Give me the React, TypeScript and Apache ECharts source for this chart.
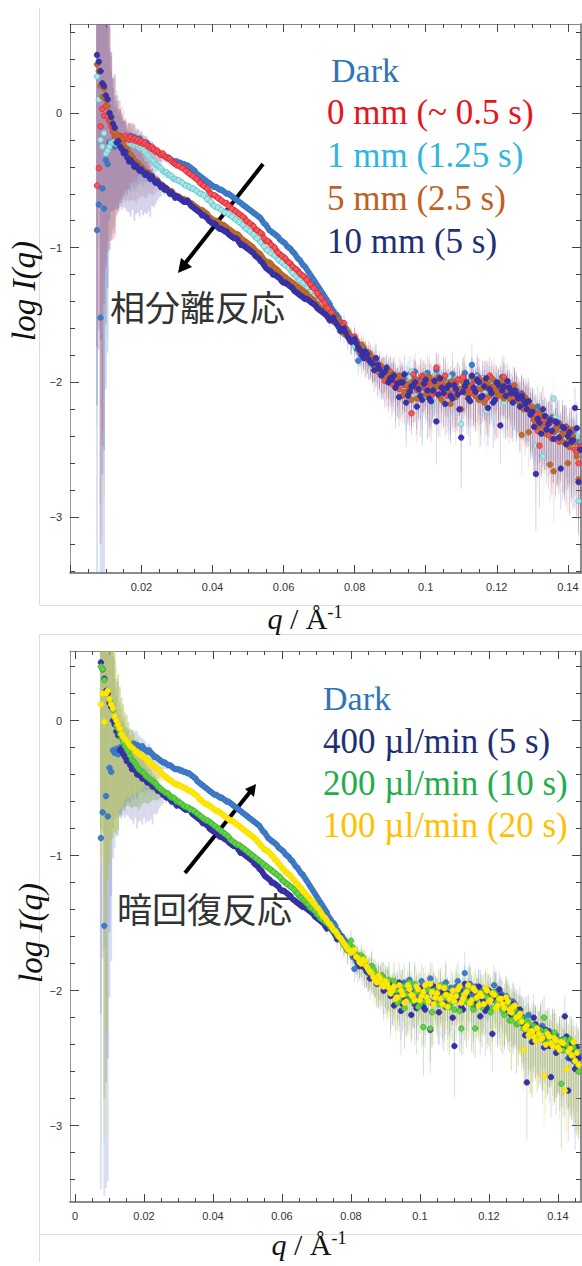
import React, { useEffect, useRef } from "react";
import * as echarts from "echarts";

const Q = [
  .0075,.008,.0085,.009,.0095,.01,.0105,.011,.0115,.012,
  .0125,.013,.0135,.014,.0145,.015,.0155,.016,.0165,.017,.0175,.018,.0185,.019,.0195,.02,
  .0205,.021,.0215,.022,.0225,.023,.0235,.024,.0245,.025,.0255,.026,.0265,.027,.0275,.028,.0285,.029,.0295,.03,
  .031,.032,.033,.034,.035,.036,.037,.038,.039,.04,.041,.042,.043,.044,.045,.046,.047,.048,.049,.05,
  .051,.052,.053,.054,.055,.056,.057,.058,.059,.06,.061,.062,.063,.064,.065,.066,.067,.068,.069,.07,
  .071,.072,.073,.074,.075,.076,.077,.078,.079,.08,.081,.082,.083,.084,.085,.086,.087,.088,.089,.09,
  .091,.092,.093,.094,.095,.096,.097,.098,.099,.1,.101,.102,.103,.104,.105,.106,.107,.108,.109,.11,
  .111,.112,.113,.114,.115,.116,.117,.118,.119,.12,.121,.122,.123,.124,.125,.126,.127,.128,.129,.13,
  .131,.132,.133,.134,.135,.136,.137,.138,.139,.14,.141,.142,.143,
  .0805,.0815,.0825,.0835,.0845,.0855,.0865,.0875,.0885,.0895,
  .0905,.0915,.0925,.0935,.0945,.0955,.0965,.0975,.0985,.0995,.1005,.1015,.1025,.1035,.1045,.1055,.1065,.1075,.1085,.1095,
  .1105,.1115,.1125,.1135,.1145,.1155,.1165,.1175,.1185,.1195,.1205,.1215,.1225,.1235,.1245,.1255,.1265,.1275,.1285,.1295,
  .1305,.1315,.1325,.1335,.1345,.1355,.1365,.1375,.1385,.1395,.1405,.1415,.1425,
  .1435,.144,.1445,.145,.1455,.146,
];
const Q_MID = [
  .0305,.0315,.0325,.0335,.0345,.0355,.0365,.0375,.0385,.0395,
  .0405,.0415,.0425,.0435,.0445,.0455,.0465,.0475,.0485,.0495,
  .0505,.0515,.0525,.0535,.0545,.0555,.0565,.0575,.0585,.0595,
  .0605,.0615,.0625,.0635,.0645,.0655,.0665,.0675,.0685,.0695,
  .0705,.0715,.0725,.0735,.0745,.0755,.0765,.0775,.0785,.0795,
];

const DARK = [
  -.87,-.68,-1.52,-.56,-.71,-.35,-.38,-.22,-.24,-.21,
  -.25,-.2,-.23,-.19,-.22,-.2,-.18,-.21,-.19,-.17,-.2,-.18,-.19,-.2,-.19,-.21,
  -.22,-.23,-.22,-.24,-.25,-.27,-.27,-.28,-.29,-.3,-.31,-.31,-.32,-.33,-.33,-.34,-.35,-.36,-.36,-.36,
  -.37,-.38,-.39,-.41,-.43,-.46,-.48,-.5,-.52,-.54,-.55,-.57,-.58,-.6,-.61,-.63,-.65,-.67,-.69,-.71,
  -.73,-.75,-.77,-.8,-.83,-.87,-.89,-.91,-.94,-.96,-.99,-1.01,-1.04,-1.08,-1.11,-1.14,-1.18,-1.22,-1.26,-1.3,
  -1.34,-1.38,-1.42,-1.47,-1.5,-1.55,-1.59,-1.62,-1.66,-1.72,-1.84,-1.74,-1.79,-1.83,-1.87,-1.85,-1.9,-1.92,-1.95,-1.93,
  -1.97,-2,-1.99,-2.03,-1.98,-2.05,-1.92,-2.07,-2.02,-2,-1.96,-2.04,-1.91,-2.01,-2.06,-1.99,-2.03,-2.08,-1.98,-2.02,
  -1.93,-2.05,-1.87,-2,-2.04,-1.97,-2.02,-2.06,-1.99,-2.03,-2.07,-2.01,-2.05,-2.1,-2.04,-2.12,-2.08,-2.14,-2.18,-2.2,
  -2.24,-2.3,-2.27,-2.33,-2.29,-2.36,-2.32,-2.38,-2.35,-2.42,-2.39,-2.44,-2.5,
  -1.75,-1.78,-1.8,-1.82,-1.86,-1.84,-1.89,-1.93,-1.91,-1.96,
  -1.95,-1.99,-2.01,-1.97,-2.03,-1.94,-2.06,-2,-1.98,-2.04,-1.93,-2.02,-2.07,-1.96,-2.03,-1.99,-2.09,-1.94,-2.05,-2.01,
  -1.97,-2.04,-1.99,-2.08,-1.95,-2.03,-2.06,-1.98,-2.01,-2.09,-2.03,-1.96,-2.07,-2.02,-2.11,-2.06,-2.13,-2.1,-2.16,-2.19,
  -2.22,-2.18,-2.28,-2.25,-2.31,-2.26,-2.34,-2.3,-2.37,-2.33,-2.4,-2.36,-2.43,
  -2.47,-2.41,-2.52,-2.45,-2.55,-2.48,
];
const RED_0MM = [
  -.54,-.41,-.1,.03,-.02,.05,-.03,-.06,-.1,-.14,
  -.17,-.16,-.19,-.17,-.18,-.2,-.17,-.19,-.2,-.18,-.2,-.19,-.21,-.2,-.22,-.21,
  -.23,-.22,-.24,-.25,-.26,-.25,-.27,-.29,-.28,-.3,-.31,-.3,-.32,-.33,-.34,-.34,-.36,-.37,-.38,-.39,
  -.4,-.41,-.44,-.46,-.48,-.5,-.53,-.55,-.58,-.61,-.62,-.64,-.66,-.67,-.7,-.72,-.74,-.76,-.78,-.81,
  -.83,-.86,-.88,-.9,-.95,-.96,-.99,-1.02,-1.05,-1.07,-1.1,-1.12,-1.15,-1.17,-1.2,-1.22,-1.25,-1.29,-1.31,-1.36,
  -1.39,-1.43,-1.46,-1.5,-1.53,-1.58,-1.56,-1.63,-1.68,-1.66,-1.72,-1.76,-1.8,-1.78,-1.84,-1.9,-1.87,-1.93,-1.96,-1.92,
  -1.98,-2,-1.96,-2.02,-2.06,-2.23,-1.97,-2.03,-1.95,-2.05,-1.99,-2.08,-1.89,-2.01,-1.97,-2.1,-2,-2.04,-1.98,-2.07,
  -1.99,-2.06,-2.02,-2.1,-1.97,-2.04,-2.12,-1.95,-2.03,-2.08,-2,-1.96,-2.06,-2.1,-2.05,-2.13,-2.09,-2.18,-2.14,-2.2,
  -2.24,-2.47,-2.27,-2.35,-2.3,-2.37,-2.32,-2.4,-2.36,-2.44,-2.41,-2.5,-2.6,
  -1.69,-1.74,-1.77,-1.82,-1.81,-1.88,-1.91,-1.94,-1.99,-1.95,
  -2.01,-1.97,-2.05,-1.99,-2.08,-2.02,-1.94,-2.06,-2,-1.96,-2.04,-2.1,-1.98,-2.03,-2.07,-1.95,-2.02,-2.09,-2.01,-2.05,
  -1.96,-2.03,-2.08,-1.98,-2.05,-2.11,-1.99,-2.04,-1.97,-2.06,-2.02,-2.09,-2.01,-2.07,-2.12,-2.08,-2.15,-2.11,-2.17,-2.22,
  -2.28,-2.36,-2.25,-2.31,-2.39,-2.28,-2.34,-2.44,-2.38,-2.33,-2.46,-2.42,-2.52,
  -2.48,-2.56,-2.44,-2.5,-2.6,-2.47,
];
const CYAN_1MM = [
  .27,.1,-.2,-.25,-.15,-.3,-.28,-.25,-.22,-.22,
  -.21,-.23,-.2,-.22,-.24,-.21,-.23,-.22,-.2,-.23,-.22,-.24,-.23,-.25,-.26,-.25,
  -.27,-.29,-.31,-.32,-.34,-.35,-.36,-.38,-.39,-.4,-.41,-.43,-.44,-.44,-.46,-.46,-.47,-.49,-.49,-.5,
  -.51,-.53,-.54,-.56,-.57,-.59,-.6,-.62,-.65,-.68,-.7,-.71,-.73,-.74,-.76,-.78,-.8,-.82,-.85,-.87,
  -.89,-.92,-.94,-.97,-1.01,-1.03,-1.05,-1.07,-1.1,-1.12,-1.14,-1.17,-1.2,-1.23,-1.25,-1.28,-1.31,-1.35,-1.38,-1.41,
  -1.44,-1.47,-1.5,-1.53,-1.56,-1.59,-1.63,-1.61,-1.67,-1.73,-1.71,-1.78,-1.76,-1.83,-1.87,-1.85,-1.91,-1.89,-1.95,-2.01,
  -1.96,-2.03,-1.99,-2.05,-2,-1.92,-2.06,-2.02,-2.1,-1.98,-2.04,-2.14,-2,-2.07,-1.95,-2.03,-2.11,-1.99,-2.05,-2.31,
  -2,-2.08,-1.98,-2.03,-2.12,-1.97,-2.21,-2.05,-2.01,-2.09,-2.03,-2.15,-2.07,-2.11,-2.04,-2.16,-2.1,-2.19,-2.17,-2.24,
  -2.47,-2.29,-2.55,-2.31,-2.36,-2.12,-2.33,-2.4,-2.38,-2.45,-2.43,-2.42,-2.88,
  -1.7,-1.75,-1.74,-1.8,-1.85,-1.82,-1.88,-1.93,-1.9,-1.98,
  -1.99,-1.94,-2.04,-2,-2.07,-1.96,-2.02,-2.09,-2.03,-1.95,-2.06,-2.01,-1.97,-2.05,-2.1,-2,-1.96,-2.04,-2.08,-2.02,
  -1.98,-2.05,-2.01,-2.09,-1.96,-2.03,-2.07,-2,-2.05,-1.99,-2.08,-2.04,-2.1,-2.06,-2.13,-2.09,-2.15,-2.12,-2.18,-2.21,
  -2.26,-2.34,-2.28,-2.38,-2.3,-2.35,-2.26,-2.39,-2.34,-2.42,-2.37,-2.46,-2.4,
  -2.5,-2.44,-2.56,-2.47,-2.52,-2.6,
];
const BROWN_5MM = [
  .36,.31,.2,.12,.18,.1,.05,0,-.06,-.1,
  -.14,-.18,-.17,-.19,-.2,-.23,-.26,-.27,-.3,-.31,-.33,-.35,-.37,-.37,-.39,-.4,
  -.42,-.43,-.45,-.44,-.46,-.48,-.49,-.5,-.5,-.52,-.53,-.54,-.55,-.56,-.57,-.58,-.58,-.6,-.61,-.62,
  -.63,-.64,-.66,-.67,-.69,-.71,-.72,-.74,-.77,-.79,-.8,-.82,-.83,-.85,-.87,-.89,-.9,-.93,-.95,-.97,
  -.99,-1.02,-1.04,-1.07,-1.1,-1.11,-1.14,-1.16,-1.19,-1.21,-1.23,-1.25,-1.27,-1.29,-1.31,-1.33,-1.36,-1.38,-1.41,-1.44,
  -1.46,-1.49,-1.51,-1.55,-1.53,-1.6,-1.64,-1.62,-1.69,-1.67,-1.75,-1.72,-1.81,-1.78,-1.85,-1.83,-1.89,-1.94,-1.91,-1.97,
  -1.94,-2.02,-1.99,-2.07,-2.01,-2.13,-1.98,-2.04,-2,-2.09,-1.96,-2.06,-2.02,-2.11,-1.99,-2.05,-2.16,-2.01,-2.08,-2.2,
  -2.02,-2.09,-1.96,-2.06,-2.13,-2,-2.04,-2.1,-1.98,-2.07,-2.03,-2.12,-2.05,-2.09,-2.02,-2.14,-2.39,-2.11,-2.37,-2.18,
  -2.3,-2.22,-2.33,-2.26,-2.61,-2.66,-2.34,-2.41,-2.38,-2.6,-2.35,-2.45,-2.72,
  -1.7,-1.77,-1.74,-1.83,-1.8,-1.87,-1.92,-1.88,-1.96,-1.93,
  -1.98,-2.04,-1.95,-2.1,-2.02,-2.06,-1.99,-2.12,-2.03,-1.97,-2.08,-2.01,-2.05,-1.96,-2.13,-2.03,-2.07,-1.99,-2.11,-2.05,
  -2,-2.08,-2.03,-1.97,-2.11,-2.05,-2.15,-2.01,-2.07,-2.03,-2.1,-1.99,-2.06,-2.12,-2.04,-2.1,-2.15,-2.2,-2.13,-2.23,
  -2.27,-2.33,-2.24,-2.38,-2.3,-2.42,-2.36,-2.31,-2.44,-2.35,-2.48,-2.4,-2.55,
  -2.5,-2.45,-2.62,-2.48,-2.55,-2.44,
];
const NAVY_10MM = [
  .43,.38,.31,.22,.2,.13,.1,0,-.03,-.08,
  -.11,-.22,-.21,-.25,-.27,-.3,-.29,-.33,-.36,-.35,-.37,-.4,-.39,-.41,-.43,-.42,
  -.44,-.46,-.45,-.47,-.49,-.47,-.5,-.52,-.51,-.53,-.55,-.54,-.57,-.56,-.58,-.6,-.59,-.61,-.63,-.62,
  -.64,-.66,-.65,-.69,-.71,-.73,-.76,-.77,-.8,-.82,-.83,-.86,-.87,-.88,-.91,-.93,-.94,-.98,-.99,-1.01,
  -1.03,-1.06,-1.08,-1.11,-1.15,-1.17,-1.2,-1.21,-1.23,-1.26,-1.27,-1.29,-1.32,-1.34,-1.36,-1.38,-1.39,-1.41,-1.43,-1.46,
  -1.48,-1.5,-1.54,-1.52,-1.57,-1.62,-1.6,-1.66,-1.7,-1.68,-1.74,-1.8,-1.77,-1.83,-1.86,-1.82,-1.9,-1.93,-1.89,-1.97,
  -1.95,-2.01,-2,-1.94,-2.1,-2.03,-2,-2.05,-2.13,-1.98,-2.12,-2.06,-2.29,-1.97,-2.08,-2.04,-2.1,-2.02,-2.09,-2.41,
  -2.03,-2.12,-1.95,-2.07,-2,-2.1,-1.97,-2.05,-2.15,-2,-2.32,-2.03,-1.99,-2.08,-2.06,-2.12,-2.1,-2.16,-2.14,-2.22,
  -2.68,-2.3,-2.2,-2.35,-2.28,-2.42,-2.3,-2.64,-2.34,-2.4,-2.44,-2.19,-2.74,
  -1.71,-1.76,-1.82,-1.79,-1.85,-1.91,-1.87,-1.95,-1.92,-2,
  -1.98,-2.04,-2.11,-2,-2.15,-2.07,-2.03,-2.18,-2.1,-2.01,-2.06,-2.14,-1.99,-2.09,-2.04,-2.16,-2.02,-2.12,-2.05,-2.2,
  -2.07,-2,-2.14,-2.04,-1.98,-2.11,-2.03,-2.19,-2.08,-2.13,-2.02,-2.06,-2.1,-2.04,-2.15,-2.09,-2.18,-2.13,-2.2,-2.24,
  -2.33,-2.27,-2.38,-2.25,-2.31,-2.36,-2.29,-2.41,-2.33,-2.46,-2.37,-2.43,-2.34,
  -2.5,-2.39,-2.46,-2.58,-2.42,-2.5,
];
const GREEN_200 = [
  .4,.38,.3,.2,.22,.15,.12,.08,.02,-.04,
  -.06,-.1,-.13,-.16,-.19,-.21,-.23,-.26,-.29,-.3,-.32,-.34,-.36,-.37,-.38,-.39,
  -.41,-.42,-.43,-.44,-.45,-.46,-.47,-.49,-.5,-.51,-.52,-.53,-.54,-.54,-.56,-.57,-.57,-.58,-.6,-.6,
  -.62,-.64,-.65,-.66,-.68,-.7,-.72,-.74,-.75,-.77,-.79,-.81,-.83,-.85,-.88,-.9,-.92,-.93,-.95,-.97,
  -.99,-1.01,-1.03,-1.05,-1.07,-1.09,-1.11,-1.13,-1.15,-1.18,-1.2,-1.22,-1.24,-1.27,-1.3,-1.32,-1.35,-1.38,-1.4,-1.43,
  -1.46,-1.48,-1.5,-1.53,-1.56,-1.59,-1.62,-1.66,-1.7,-1.63,-1.72,-1.76,-1.74,-1.8,-1.84,-1.82,-1.87,-1.92,-1.89,-1.95,
  -1.92,-1.99,-2,-2.06,-1.97,-2.03,-1.94,-2.08,-2.01,-2.1,-2.27,-2.05,-2.28,-2,-2.07,-1.96,-2.11,-2.03,-2.09,-2.14,
  -2,-2.28,-2.06,-1.98,-2.1,-2.28,-2.04,-2.12,-2,-2.07,-2.13,-2.03,-2.09,-2.15,-2.05,-2.22,-2.17,-2.25,-2.2,-2.28,
  -2.22,-2.3,-2.26,-2.35,-2.29,-2.2,-2.33,-2.38,-2.31,-2.4,-2.69,-2.36,-2.45,
  -1.68,-1.73,-1.78,-1.76,-1.82,-1.86,-1.84,-1.9,-1.94,-1.91,
  -1.96,-2.02,-1.93,-2.09,-2,-2.13,-1.98,-2.05,-1.95,-2.12,-2.03,-2.08,-1.99,-2.16,-2.02,-2.1,-2.05,-1.97,-2.12,-2.06,
  -2.01,-2.15,-2.03,-2.08,-1.99,-2.14,-2.06,-2.02,-2.1,-2.05,-2.16,-2.01,-2.08,-2.12,-2.18,-2.1,-2.22,-2.14,-2.24,-2.2,
  -2.28,-2.24,-2.33,-2.27,-2.31,-2.36,-2.3,-2.38,-2.34,-2.41,-2.37,-2.44,-2.4,
  -2.36,-2.47,-2.42,-2.52,-2.45,-2.6,
];
const YELLOW_100 = [
  .12,.2,-.01,.2,.22,.16,.12,.09,.03,0,
  -.03,-.06,-.1,-.12,-.14,-.15,-.17,-.19,-.2,-.21,-.23,-.23,-.25,-.26,-.26,-.27,
  -.28,-.3,-.31,-.31,-.33,-.34,-.35,-.36,-.37,-.39,-.4,-.41,-.42,-.43,-.44,-.45,-.46,-.47,-.47,-.48,
  -.49,-.5,-.52,-.53,-.55,-.58,-.6,-.62,-.63,-.65,-.67,-.68,-.7,-.72,-.74,-.75,-.77,-.79,-.81,-.83,
  -.85,-.87,-.9,-.93,-.96,-.97,-1,-1.03,-1.06,-1.09,-1.12,-1.14,-1.17,-1.2,-1.23,-1.26,-1.29,-1.32,-1.35,-1.38,
  -1.41,-1.45,-1.48,-1.51,-1.55,-1.58,-1.61,-1.65,-1.69,-1.72,-1.7,-1.76,-1.8,-1.78,-1.84,-1.87,-1.92,-1.89,-1.95,-1.93,
  -1.98,-2,-2.06,-1.96,-2.03,-2.08,-1.99,-2.04,-1.97,-2.07,-2.01,-2.05,-1.95,-2.1,-2.02,-2.06,-1.98,-2.12,-2.04,-2.08,
  -1.99,-2.09,-2.03,-1.96,-2.07,-2,-2.11,-2.04,-1.98,-2.08,-2.02,-2.13,-2.06,-2.1,-2.05,-2.14,-2.12,-2.2,-2.17,-2.44,
  -2.26,-2.3,-2.34,-2.28,-2.36,-2.63,-2.32,-2.39,-2.35,-2.42,-2.38,-2.74,-2.45,
  -1.71,-1.75,-1.79,-1.77,-1.82,-1.86,-1.9,-1.94,-1.91,-1.97,
  -1.95,-2.02,-1.97,-2.05,-2,-2.09,-1.96,-2.03,-2.07,-1.99,-2.04,-1.96,-2.08,-2.01,-2.05,-1.97,-2.1,-2.03,-2.06,-2,
  -2.04,-1.97,-2.06,-2.01,-2.09,-1.98,-2.05,-2.02,-2.1,-2,-2.07,-2.03,-2.11,-2.06,-2.13,-2.08,-2.16,-2.11,-2.19,-2.23,
  -2.28,-2.33,-2.3,-2.37,-2.32,-2.35,-2.4,-2.34,-2.41,-2.37,-2.44,-2.39,-2.58,
  -2.43,-2.48,-2.38,-2.52,-2.46,-2.55,
];

const DARK_MID = [
  -.37,-.38,-.39,-.4,-.42,-.45,-.47,-.49,-.51,-.53,
  -.55,-.56,-.57,-.59,-.6,-.62,-.64,-.66,-.68,-.7,
  -.72,-.74,-.76,-.78,-.82,-.85,-.88,-.9,-.92,-.95,
  -.97,-1,-1.03,-1.06,-1.09,-1.13,-1.16,-1.2,-1.24,-1.28,
  -1.32,-1.36,-1.4,-1.45,-1.49,-1.52,-1.57,-1.6,-1.64,-1.69,
];
const RED_MID = [
  -.39,-.41,-.43,-.45,-.47,-.49,-.52,-.54,-.56,-.6,
  -.61,-.63,-.65,-.67,-.69,-.71,-.73,-.75,-.77,-.8,
  -.82,-.84,-.87,-.89,-.93,-.95,-.98,-1,-1.04,-1.06,
  -1.08,-1.11,-1.14,-1.16,-1.19,-1.21,-1.24,-1.27,-1.3,-1.34,
  -1.37,-1.41,-1.45,-1.48,-1.52,-1.55,-1.58,-1.6,-1.65,-1.67,
];
const CYAN_MID = [
  -.5,-.52,-.54,-.55,-.56,-.58,-.6,-.61,-.64,-.66,
  -.69,-.7,-.72,-.74,-.75,-.77,-.79,-.81,-.83,-.86,
  -.88,-.9,-.93,-.96,-.99,-1.02,-1.04,-1.06,-1.09,-1.11,
  -1.13,-1.15,-1.19,-1.21,-1.24,-1.26,-1.3,-1.33,-1.36,-1.4,
  -1.42,-1.46,-1.49,-1.52,-1.55,-1.57,-1.6,-1.64,-1.65,-1.7,
];
const BROWN_MID = [
  -.62,-.64,-.65,-.67,-.68,-.7,-.72,-.73,-.75,-.78,
  -.8,-.81,-.83,-.84,-.86,-.88,-.9,-.91,-.94,-.96,
  -.98,-1,-1.03,-1.05,-1.09,-1.11,-1.12,-1.15,-1.17,-1.2,
  -1.22,-1.24,-1.26,-1.28,-1.3,-1.32,-1.34,-1.37,-1.39,-1.42,
  -1.45,-1.47,-1.5,-1.53,-1.54,-1.57,-1.62,-1.63,-1.66,-1.68,
];
const NAVY_MID = [
  -.63,-.65,-.66,-.67,-.7,-.72,-.74,-.76,-.78,-.81,
  -.82,-.85,-.86,-.88,-.9,-.92,-.93,-.96,-.98,-1,
  -1.02,-1.04,-1.07,-1.1,-1.13,-1.16,-1.18,-1.2,-1.22,-1.25,
  -1.26,-1.28,-1.3,-1.33,-1.35,-1.37,-1.38,-1.4,-1.42,-1.45,
  -1.47,-1.49,-1.52,-1.53,-1.55,-1.59,-1.61,-1.63,-1.68,-1.69,
];
const GREEN_MID = [
  -.61,-.63,-.64,-.66,-.67,-.69,-.71,-.73,-.74,-.76,
  -.78,-.8,-.82,-.84,-.86,-.89,-.91,-.92,-.94,-.96,
  -.98,-1,-1.02,-1.04,-1.06,-1.08,-1.1,-1.12,-1.14,-1.16,
  -1.19,-1.21,-1.23,-1.25,-1.28,-1.31,-1.33,-1.36,-1.39,-1.41,
  -1.44,-1.47,-1.49,-1.51,-1.54,-1.57,-1.6,-1.64,-1.68,-1.66,
];
const YELLOW_MID = [
  -.48,-.5,-.51,-.52,-.54,-.56,-.59,-.61,-.62,-.64,
  -.66,-.67,-.69,-.71,-.73,-.74,-.76,-.78,-.8,-.82,
  -.84,-.86,-.88,-.91,-.94,-.96,-.98,-1.01,-1.04,-1.07,
  -1.1,-1.13,-1.15,-1.18,-1.21,-1.24,-1.27,-1.3,-1.33,-1.36,
  -1.39,-1.43,-1.46,-1.5,-1.53,-1.56,-1.6,-1.63,-1.67,-1.7,
];

const UP_EXTRA = [
  .06,.07,.08,.07,.09,.1,.08,.11,.1,.12,
  .13,.11,.14,.12,.15,.13,.12,.14,.16,.12,.13,.15,.12,.17,.13,.14,.12,.16,.13,.14,
  .15,.12,.14,.13,.16,.12,.15,.14,.13,.17,.12,.15,.14,.13,.16,.14,.15,.13,.16,.15,
  .17,.15,.18,.14,.16,.19,.15,.17,.2,.16,.18,.15,.19,
  .17,.2,.16,.19,.18,.2,
];
const DOWN_EXTRA_A = [
  .09,.12,.1,.14,.12,.16,.14,.18,.16,.22,
  .2,.3,.16,.24,.33,.2,.27,.17,.3,.22,.36,.19,.26,.31,.18,.24,.34,.2,.28,.23,
  .3,.2,.33,.25,.18,.36,.22,.28,.2,.3,.26,.18,.32,.23,.29,.35,.24,.3,.27,.34,
  .36,.44,.3,.4,.33,.48,.35,.42,.3,.46,.38,.5,.4,
  .45,.55,.4,.6,.48,.55,
];
const DOWN_EXTRA_B = [
  .1,.08,.13,.11,.15,.12,.19,.14,.2,.17,
  .25,.17,.28,.2,.14,.3,.22,.33,.18,.25,.2,.34,.16,.27,.23,.3,.19,.26,.36,.2,
  .22,.3,.19,.34,.25,.2,.29,.36,.23,.18,.31,.27,.2,.33,.24,.28,.37,.26,.32,.29,
  .42,.34,.46,.3,.4,.36,.5,.33,.44,.38,.52,.35,.47,
  .5,.42,.58,.46,.62,.5,
];
const UP_A = [
  1.9,1.8,2.6,1.6,1.5,1.2,1.1,.7,.55,.4,
  .3,.25,.22,.2,.18,.14,.12,.1,.12,.1,.12,.1,.08,.08,.06,.07,
  .06,.05,.05,.04,.04,.04,.03,.03,.03,.03,.02,.02,.02,.02,.02,.02,.02,.02,.02,.02,
  .02,.02,.02,.02,.02,.02,.02,.02,.02,.02,.02,.02,.02,.02,.02,.02,.02,.02,.02,.02,
  .02,.02,.02,.02,.02,.02,.02,.02,.02,.02,.03,.03,.03,.03,.03,.03,.03,.03,.03,.03,
  .03,.03,.04,.04,.05,.05,.06,.05,.07,.07,.08,.07,.09,.08,.1,.09,.1,.11,.1,.12,
  .12,.11,.13,.12,.14,.12,.13,.15,.12,.14,.13,.15,.12,.14,.16,.13,.12,.15,.13,.12,
  .14,.13,.16,.12,.15,.13,.17,.14,.12,.15,.13,.16,.14,.12,.15,.16,.13,.15,.14,.16,
  .15,.17,.14,.18,.16,.15,.19,.16,.18,.15,.2,.17,.18,
  ...UP_EXTRA,
];
const UP_B = [
  1.2,1.2,1,.9,1,.9,.8,.75,.48,.35,
  .4,.35,.3,.28,.25,.25,.22,.2,.22,.2,.18,.2,.17,.15,.14,.12,
  .11,.1,.09,.08,.07,.06,.05,.05,.04,.04,.03,.03,.03,.02,.02,.02,.02,.02,.02,.02,
  .02,.02,.02,.02,.02,.02,.02,.02,.02,.02,.02,.02,.02,.02,.02,.02,.02,.02,.02,.02,
  .02,.02,.02,.02,.02,.02,.02,.02,.02,.02,.03,.03,.03,.03,.03,.03,.03,.03,.03,.03,
  .03,.04,.03,.05,.04,.06,.05,.07,.06,.08,.07,.09,.08,.1,.09,.11,.1,.12,.1,.11,
  .13,.12,.11,.14,.12,.13,.15,.12,.14,.11,.15,.13,.14,.12,.16,.13,.15,.12,.14,.13,
  .12,.15,.14,.16,.12,.14,.13,.17,.15,.12,.14,.16,.13,.15,.14,.12,.16,.14,.17,.15,
  .18,.15,.17,.14,.19,.16,.15,.2,.17,.16,.18,.15,.2,
  ...UP_EXTRA,
];
const DOWN_A = [
  2.6,1.08,2,2.9,2.7,1.7,1.4,.8,.7,.65,
  .6,.5,.5,.45,.45,.4,.42,.4,.38,.42,.35,.4,.36,.33,.34,.3,
  .32,.28,.3,.26,.28,.22,.2,.16,.14,.1,.07,.05,.04,.03,.03,.03,.02,.02,.02,.02,
  .02,.02,.02,.02,.02,.02,.02,.02,.02,.02,.02,.02,.02,.02,.02,.02,.02,.02,.02,.02,
  .02,.02,.02,.02,.02,.02,.02,.02,.02,.02,.03,.03,.03,.03,.03,.03,.03,.03,.03,.03,
  .04,.03,.05,.04,.06,.08,.07,.1,.09,.12,.1,.14,.12,.15,.13,.18,.15,.2,.16,.2,
  .18,.25,.15,.28,.2,.3,.18,.22,.34,.2,.28,.24,.32,.18,.26,.22,.35,.2,.27,.38,
  .2,.28,.18,.3,.24,.2,.32,.26,.34,.2,.28,.24,.36,.22,.3,.26,.33,.28,.3,.34,
  .42,.3,.36,.28,.4,.32,.45,.3,.48,.35,.42,.5,.38,
  ...DOWN_EXTRA_A,
];
const DOWN_B = [
  1.2,1.2,3.1,2.5,1.4,1.2,1,.95,.85,.8,
  .75,.6,.55,.5,.45,.42,.4,.38,.36,.34,.32,.3,.3,.27,.24,.22,
  .2,.2,.18,.16,.14,.13,.12,.1,.08,.06,.05,.04,.03,.03,.02,.02,.02,.02,.02,.02,
  .02,.02,.02,.02,.02,.02,.02,.02,.02,.02,.02,.02,.02,.02,.02,.02,.02,.02,.02,.02,
  .02,.02,.02,.02,.02,.02,.02,.02,.02,.02,.03,.03,.03,.03,.03,.03,.03,.03,.03,.03,
  .03,.05,.04,.06,.05,.07,.09,.08,.11,.1,.13,.11,.16,.12,.17,.14,.19,.15,.22,.17,
  .24,.17,.3,.2,.26,.16,.32,.19,.27,.22,.36,.18,.25,.3,.2,.28,.23,.33,.21,.28,
  .26,.2,.31,.24,.35,.22,.27,.3,.2,.34,.25,.29,.22,.32,.27,.24,.3,.36,.26,.31,
  .3,.46,.34,.4,.28,.38,.44,.33,.5,.36,.48,.34,.42,
  ...DOWN_EXTRA_B,
];

const LEGEND_TOP = ["Dark", "0 mm (~ 0.5 s)", "1 mm (1.25 s)", "5 mm (2.5 s)", "10 mm (5 s)"];
const LEGEND_BOTTOM = ["Dark", "400 µl/min (5 s)", "200 µl/min (10 s)", "100 µl/min (20 s)"];
const X_LABELS_TOP = [0.02, 0.04, 0.06, 0.08, 0.1, 0.12, 0.14];
const X_LABELS_BOTTOM = [0, 0.02, 0.04, 0.06, 0.08, 0.1, 0.12, 0.14];
const X_MAJOR = [0, 0.02, 0.04, 0.06, 0.08, 0.1, 0.12, 0.14];
const X_MINOR = [0.005,0.01,0.015,0.025,0.03,0.035,0.045,0.05,0.055,0.065,0.07,0.075,0.085,0.09,0.095,0.105,0.11,0.115,0.125,0.13,0.135,0.145];
const Y_MAJOR = [0, -1, -2, -3];
const Y_MINOR = [0.6,0.4,0.2,-0.2,-0.4,-0.6,-0.8,-1.2,-1.4,-1.6,-1.8,-2.2,-2.4,-2.6,-2.8,-3.2,-3.4];

const SERIES_TOP = [
  { name: "Dark", y: DARK, mid: DARK_MID, up: UP_A, down: DOWN_A, fill: "#3d7cc9", border: "#3470bd", bar: "rgba(90,130,205,0.25)" },
  { name: "1 mm", y: CYAN_1MM, mid: CYAN_MID, up: UP_A, down: DOWN_A, fill: "#a9e6e6", border: "#58c5cb", bar: "rgba(110,205,215,0.14)" },
  { name: "0 mm", y: RED_0MM, mid: RED_MID, up: UP_A, down: DOWN_B, fill: "#f2565e", border: "#e3202c", bar: "rgba(225,90,105,0.3)" },
  { name: "5 mm", y: BROWN_5MM, mid: BROWN_MID, up: UP_B, down: DOWN_B, fill: "#bd6a2e", border: "#b45f26", bar: "rgba(190,115,100,0.2)" },
  { name: "10 mm", y: NAVY_10MM, mid: NAVY_MID, up: UP_B, down: DOWN_A, fill: "#3832aa", border: "#322ca0", bar: "rgba(80,70,170,0.24)" },
];
const SERIES_BOTTOM = [
  { name: "Dark", y: DARK, mid: DARK_MID, up: UP_A, down: DOWN_A, fill: "#3d7cc9", border: "#3470bd", bar: "rgba(90,130,205,0.25)" },
  { name: "400", y: NAVY_10MM, mid: NAVY_MID, up: UP_B, down: DOWN_A, fill: "#3832aa", border: "#322ca0", bar: "rgba(80,70,170,0.2)" },
  { name: "200", y: GREEN_200, mid: GREEN_MID, up: UP_B, down: DOWN_B, fill: "#62d24a", border: "#38b428", bar: "rgba(100,165,50,0.32)" },
  { name: "100", y: YELLOW_100, mid: YELLOW_MID, up: UP_A, down: DOWN_B, fill: "#ffe900", border: "#fadc00", bar: "rgba(235,220,70,0.34)" },
];

const TICK = { color: "#444", width: 1 };
const LABEL_FONT = { fontFamily: "Liberation Sans", fontSize: 11, color: "#333" };

function xAxes(g: number, min: number, max: number, labels: number[]) {
  const base = { gridIndex: g, type: "value", min, max, splitLine: { show: false } };
  const off = { show: false };
  const noLine = { show: false, onZero: false };
  return [
    { ...base, position: "bottom", axisLine: { show: true, onZero: false, lineStyle: { color: "#666", width: 1.5 } },
      axisTick: { show: true, inside: true, length: 8, customValues: X_MAJOR, lineStyle: TICK },
      axisLabel: { show: true, margin: 8, customValues: labels, formatter: (v: number) => String(v), ...LABEL_FONT } },
    { ...base, position: "bottom", axisLine: noLine,
      axisTick: { show: true, inside: true, length: 4, customValues: X_MINOR, lineStyle: TICK }, axisLabel: off },
    { ...base, position: "top", axisLine: { show: true, onZero: false, lineStyle: { color: "#888", width: 1 } },
      axisTick: { show: true, inside: true, length: 8, customValues: X_MAJOR, lineStyle: TICK }, axisLabel: off },
    { ...base, position: "top", axisLine: noLine,
      axisTick: { show: true, inside: true, length: 4, customValues: X_MINOR, lineStyle: TICK }, axisLabel: off },
  ];
}
function yAxes(g: number, min: number, max: number) {
  const base = { gridIndex: g, type: "value", min, max, splitLine: { show: false } };
  const off = { show: false };
  const noLine = { show: false, onZero: false };
  return [
    { ...base, position: "left", axisLine: { show: true, onZero: false, lineStyle: { color: "#999", width: 1 } },
      axisTick: { show: true, inside: true, length: 9, customValues: Y_MAJOR, lineStyle: TICK },
      axisLabel: { show: true, margin: 8, customValues: Y_MAJOR, formatter: (v: number) => String(v).replace("-", "−"), ...LABEL_FONT } },
    { ...base, position: "left", axisLine: noLine,
      axisTick: { show: true, inside: true, length: 5, customValues: Y_MINOR, lineStyle: TICK }, axisLabel: off },
    { ...base, position: "right", axisLine: { show: true, onZero: false, lineStyle: { color: "#666", width: 1.5 } },
      axisTick: { show: true, inside: true, length: 9, customValues: Y_MAJOR, lineStyle: TICK }, axisLabel: off },
    { ...base, position: "right", axisLine: noLine,
      axisTick: { show: true, inside: true, length: 5, customValues: Y_MINOR, lineStyle: TICK }, axisLabel: off },
  ];
}

function seriesFor(defs: typeof SERIES_TOP, g: number) {
  const out: any[] = [];
  for (const d of defs) {
    out.push({
      type: "custom", name: d.name + " error", xAxisIndex: g * 4, yAxisIndex: g * 4, clip: true, silent: true,
      encode: { x: 0, y: [1, 2] },
      data: Q.map((q, i) => [q, d.y[i] - d.down[i], d.y[i] + d.up[i]]),
      renderItem: (_p: any, api: any) => {
        const q = api.value(0);
        const a = api.coord([q, api.value(1)]);
        const b = api.coord([q, api.value(2)]);
        return { type: "line", shape: { x1: a[0], y1: a[1], x2: b[0], y2: b[1] }, style: { stroke: d.bar, lineWidth: q < 0.03 ? 1.8 : 1, fill: "none" } };
      },
    });
    out.push({
      type: "scatter", name: d.name, xAxisIndex: g * 4, yAxisIndex: g * 4, clip: true, silent: true,
      symbolSize: 5.5,
      itemStyle: { color: d.fill, borderColor: d.border, borderWidth: 0.8, opacity: 1 },
      data: [...Q.map((q, i) => [q, d.y[i]]), ...Q_MID.map((q, i) => [q, d.mid[i]])],
    });
  }
  return out;
}

const serif = "Liberation Serif";
function legendText(lines: string[], colors: string[], xs: number[], ys: number[]) {
  return lines.map((t, i) => ({
    type: "text", x: xs[i], y: ys[i], silent: true,
    style: { text: t, fill: colors[i], fontFamily: serif, fontSize: t === "Dark" ? 34 : 35, verticalAlign: "middle", align: "left" },
  }));
}
function qLabel(x: number, y: number) {
  return {
    type: "text", x, y, silent: true,
    style: {
      text: "{i|q} / Å{s|-1}", fill: "#111", fontFamily: serif, fontSize: 30, align: "center", verticalAlign: "middle",
      rich: {
        i: { fontFamily: serif, fontSize: 30, fontStyle: "italic", fill: "#111" },
        s: { fontFamily: serif, fontSize: 18, fill: "#111", verticalAlign: "top", padding: [0, 0, 12, 0] },
      },
    },
  };
}
function logLabel(x: number, y: number) {
  return {
    type: "text", x, y, rotation: Math.PI / 2, silent: true,
    style: { text: "log I(q)", fill: "#111", fontFamily: serif, fontSize: 33, fontStyle: "italic", align: "center", verticalAlign: "middle" },
  };
}
function arrow(x1: number, y1: number, x2: number, y2: number, head: number[][]) {
  return [
    { type: "line", silent: true, shape: { x1, y1, x2, y2 }, style: { stroke: "#000", lineWidth: 4 } },
    { type: "polygon", silent: true, shape: { points: head }, style: { fill: "#000" } },
  ];
}
function frameLine(x1: number, y1: number, x2: number, y2: number) {
  return { type: "line", silent: true, shape: { x1, y1, x2, y2 }, style: { stroke: "#dcdcdc", lineWidth: 1 } };
}

export default function App() {
  const ref = useRef<HTMLDivElement>(null);
  useEffect(() => {
    const chart = echarts.init(ref.current!, undefined, { renderer: "svg" });
    const TOP = { l: 70, r: 581, t: 24, b: 573 };
    const BOT = { l: 70, r: 581, t: 651, b: 1202 };
    chart.setOption({
      animation: false,
      backgroundColor: "#fff",
      grid: [
        { left: TOP.l, top: TOP.t, width: TOP.r - TOP.l, height: TOP.b - TOP.t },
        { left: BOT.l, top: BOT.t, width: BOT.r - BOT.l, height: BOT.b - BOT.t },
      ],
      xAxis: [...xAxes(0, -0.0001, 0.1437, X_LABELS_TOP), ...xAxes(1, -0.00145, 0.1467, X_LABELS_BOTTOM)],
      yAxis: [...yAxes(0, -3.415, 0.66), ...yAxes(1, -3.565, 0.515)],
      series: [...seriesFor(SERIES_TOP, 0), ...seriesFor(SERIES_BOTTOM, 1)],
      graphic: [
        frameLine(39.5, 8, 39.5, 605), frameLine(39.5, 605.5, 582, 605.5),
        frameLine(39.5, 634.5, 582, 634.5), frameLine(39.5, 634.5, 39.5, 1262), frameLine(39.5, 1234.5, 582, 1234.5),
        ...legendText(LEGEND_TOP, ["#2e75b6", "#e8141c", "#2fb5e0", "#c05f1f", "#1f2f73"], [331, 327, 327, 327, 327], [70, 112, 155, 198, 241]),
        ...legendText(LEGEND_BOTTOM, ["#2e75b6", "#1f2f73", "#1fae4a", "#ffc000"], [323, 323, 323, 323], [698, 741, 783, 825]),
        ...arrow(263, 164, 183, 266, [[178, 273], [181, 258], [192, 267]]),
        ...arrow(185, 873, 250, 792, [[256, 784], [245, 789], [254, 797]]),
        { type: "text", x: 110, y: 305, silent: true, style: { text: "相分離反応", fill: "#333", fontFamily: "Noto Sans CJK JP", fontSize: 35, verticalAlign: "middle" } },
        { type: "text", x: 117, y: 907, silent: true, style: { text: "暗回復反応", fill: "#333", fontFamily: "Noto Sans CJK JP", fontSize: 35, verticalAlign: "middle" } },
        qLabel(305, 618), qLabel(309, 1244),
        logLabel(24, 291), logLabel(31, 933),
      ],
    });
    return () => chart.dispose();
  }, []);
  return <div ref={ref} style={{ position: "absolute", left: 0, top: 0, width: 582, height: 1266 }} />;
}
